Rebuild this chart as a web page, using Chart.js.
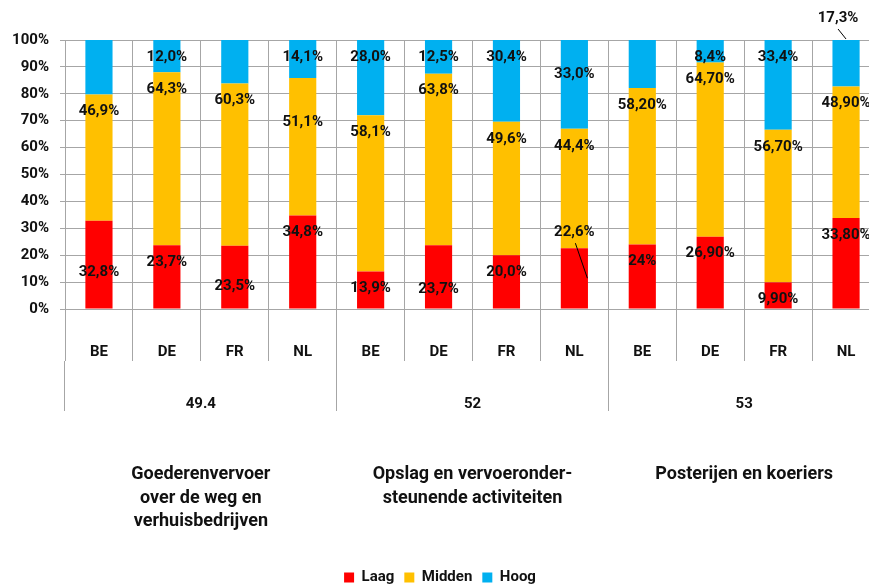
<!DOCTYPE html>
<html>
<head>
<meta charset="utf-8">
<script src="https://cdn.jsdelivr.net/npm/chart.js@4/dist/chart.umd.min.js"></script>
<style>
  html, body { margin:0; padding:0; background:#fff; overflow:hidden; }
  #wrap { width:869px; height:586px; overflow:hidden; position:relative; }
  canvas { display:block; }
</style>
</head>
<body>
<div id="wrap"><canvas id="c" width="880" height="595"></canvas></div>
<script>
// ---- data ----
const countries = ['BE','DE','FR','NL','BE','DE','FR','NL','BE','DE','FR','NL'];
const groupCodes = ['49.4','52','53'];
const groupNames = [
  ['Goederenvervoer','over de weg en','verhuisbedrijven'],
  ['Opslag en vervoeronder-','steunende activiteiten'],
  ['Posterijen en koeriers']
];
const seriesNames = ['Laag','Midden','Hoog'];
const laag   = [32.8, 23.7, 23.5, 34.8, 13.9, 23.7, 20.0, 22.6, 24.0, 26.9,  9.9, 33.8];
const midden = [46.9, 64.3, 60.3, 51.1, 58.1, 63.8, 49.6, 44.4, 58.2, 64.7, 56.7, 48.9];
const hoog   = [20.3, 12.0, 16.2, 14.1, 28.0, 12.5, 30.4, 33.0, 17.8,  8.4, 33.4, 17.3];
const laagLabels   = ['32,8%','23,7%','23,5%','34,8%','13,9%','23,7%','20,0%','22,6%','24%','26,90%','9,90%','33,80%'];
const middenLabels = ['46,9%','64,3%','60,3%','51,1%','58,1%','63,8%','49,6%','44,4%','58,20%','64,70%','56,70%','48,90%'];
const hoogLabels   = [null,'12,0%',null,'14,1%','28,0%','12,5%','30,4%','33,0%',null,'8,4%','33,4%','17,3%'];
const yTicks = [0,10,20,30,40,50,60,70,80,90,100];

// ---- label placement tweaks (pixels, relative to default spot) ----
const labelNudge = {
  Laag:   { 0:{dy:34}, 2:{dy:23}, 5:{dy:27}, 7:{dy:-33, leader:[1,11,13,30]} },
  Midden: { 3:{dy:27} },
  Hoog:   { 7:{dy:17}, 11:{dx:-8, dy:-39, leader:[0,11,0,-1]} }
};

const colors = ['#FF0000','#FFC000','#00B0F0'];
const gridColor = '#a6a6a6';
const FONT = 'Roboto';

const segLabels = {
  id:'segLabels',
  afterDatasetsDraw(chart){
    const ctx = chart.ctx;
    ctx.save();
    ctx.font = 'bold 15px ' + FONT;
    ctx.fillStyle = '#111';
    ctx.textAlign = 'center';
    ctx.textBaseline = 'middle';
    chart.data.datasets.forEach((ds,i)=>{
      const meta = chart.getDatasetMeta(i);
      meta.data.forEach((el,j)=>{
        const txt = ds.valueLabels[j];
        if(!txt) return;
        const n = (labelNudge[ds.label]||{})[j] || {};
        const x = el.x + (n.dx||0), y = el.y + 17 + (n.dy||0);
        if(n.leader){
          ctx.beginPath();
          ctx.moveTo(x + n.leader[0], y + n.leader[1]);
          ctx.lineTo(el.x + n.leader[2], el.y + n.leader[3]);
          ctx.strokeStyle = '#000'; ctx.lineWidth = 1; ctx.stroke();
        }
        ctx.fillText(txt, x, y);
      });
    });
    ctx.restore();
  }
};

const seriesValues = [laag, midden, hoog];
const seriesLabels = [laagLabels, middenLabels, hoogLabels];

new Chart(document.getElementById('c'), {
  type:'bar',
  data:{
    labels: countries,
    datasets: seriesNames.map((name,i)=>({
      label:name,
      data:seriesValues[i],
      valueLabels:seriesLabels[i],
      backgroundColor:colors[i],
      borderWidth:0,
      barPercentage:0.4,
      categoryPercentage:1.0
    }))
  },
  options:{
    responsive:false,
    animation:false,
    layout:{ padding:{ top:40, left:0, right:0, bottom:0 } },
    plugins:{
      legend:{
        position:'bottom',
        labels:{ font:{ family:FONT, size:15, weight:'bold' }, color:'#111', boxWidth:10, boxHeight:10, padding:10 }
      },
      tooltip:{ enabled:false }
    },
    scales:{
      x:{
        stacked:true, weight:1,
        grid:{ offset:true, color:gridColor, tickLength:52, lineWidth:1 },
        border:{ color:gridColor },
        ticks:{ font:{ family:FONT, size:15, weight:'bold' }, color:'#111', padding:-18, autoSkip:false, maxRotation:0 },
        afterFit(s){ s.height = 52; }
      },
      x2:{
        type:'category', labels:groupCodes, position:'bottom', weight:2,
        grid:{ offset:true, color:gridColor, tickLength:50, drawOnChartArea:false },
        border:{ display:false },
        ticks:{ font:{ family:FONT, size:15, weight:'bold' }, color:'#111', padding:-16, maxRotation:0 },
        afterFit(s){ s.height = 50; }
      },
      x3:{
        type:'category', labels:groupNames, position:'bottom', weight:3,
        grid:{ display:false },
        border:{ display:false },
        ticks:{ font:{ family:FONT, size:18, weight:'bold', lineHeight:1.3 }, color:'#111', padding:44, maxRotation:0 },
        afterFit(s){ s.height = 149; }
      },
      y:{
        stacked:true, min:0, max:100,
        afterBuildTicks(s){ s.ticks = yTicks.map(v=>({value:v})); },
        grid:{ color:gridColor, tickLength:5 },
        border:{ color:gridColor },
        ticks:{ font:{ family:FONT, size:15, weight:'bold' }, color:'#111', padding:11, callback:v=>v+'%' },
        afterFit(s){ s.width = 65; }
      }
    }
  },
  plugins:[segLabels]
});
</script>
</body>
</html>
